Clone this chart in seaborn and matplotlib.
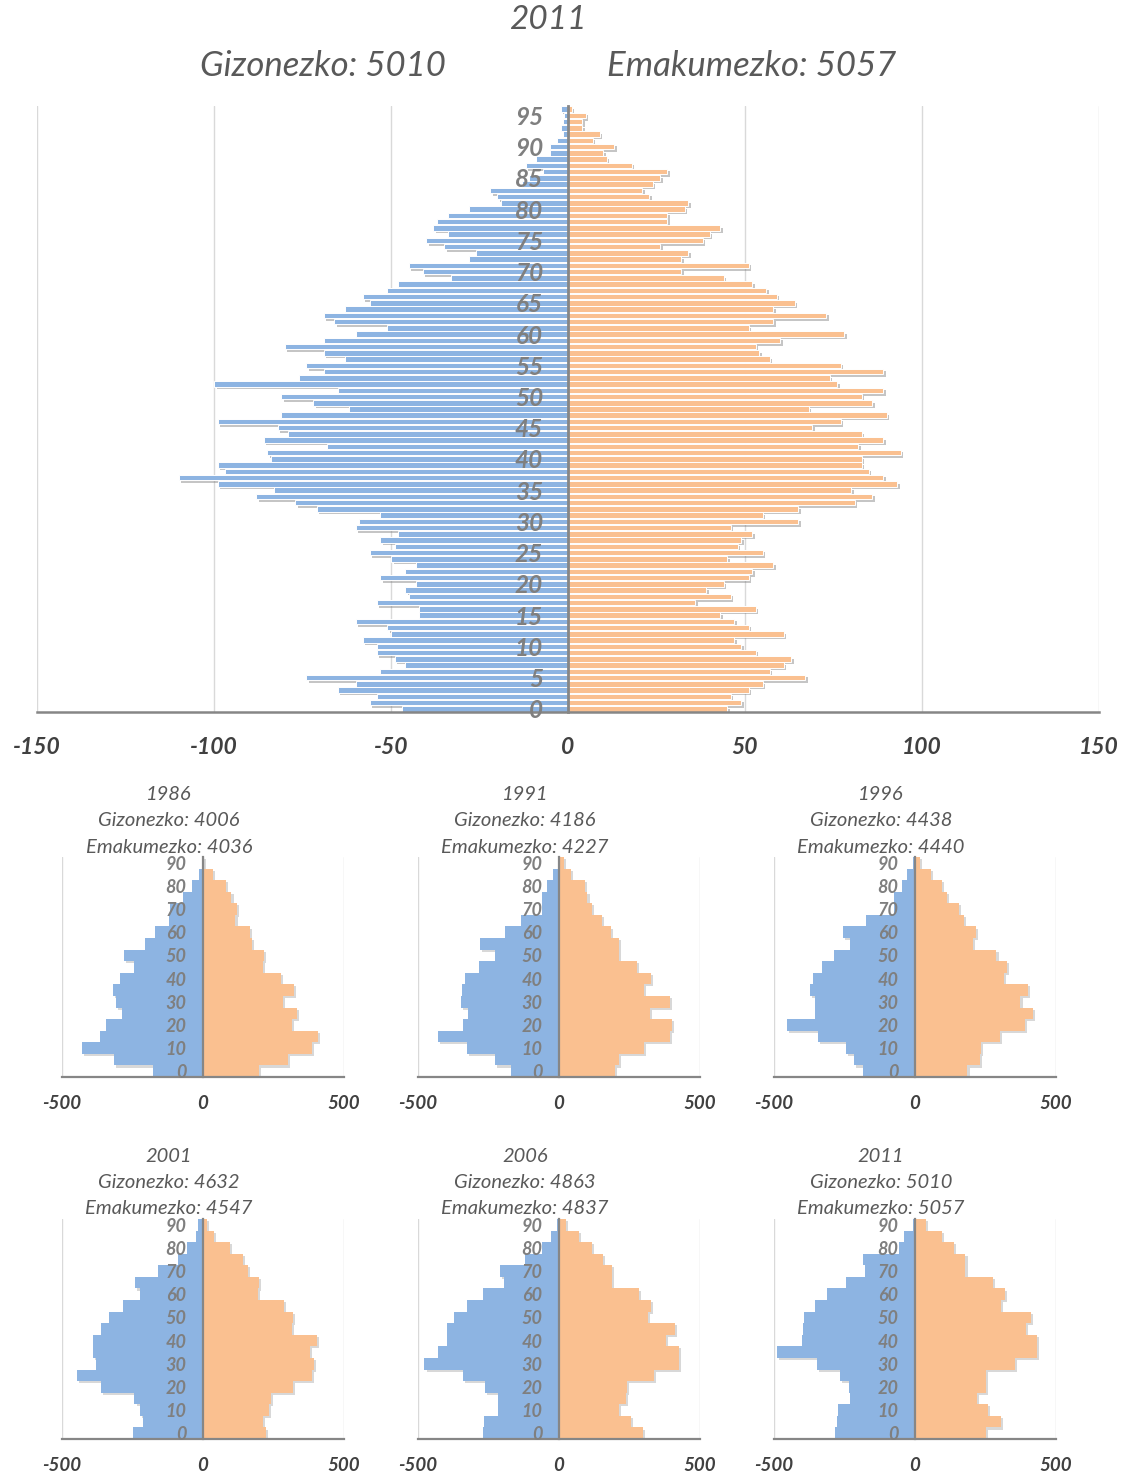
import matplotlib
matplotlib.use('Agg')
import matplotlib.pyplot as plt
import matplotlib.patheffects as pe
import seaborn as sns
import pandas as pd

# single-year ages, 2011 (main pyramid)
AGES = [str(a) for a in range(97)]
MALE_2011 = [47, 56, 54, 65, 60, 74, 53, 46, 49, 54,
             54, 58, 50, 51, 60, 42, 42, 54, 45, 46,
             43, 53, 46, 43, 50, 56, 49, 53, 48, 60,
             59, 53, 71, 77, 88, 83, 99, 110, 97, 99,
             84, 85, 68, 86, 79, 82, 99, 81, 62, 72,
             81, 65, 100, 76, 69, 74, 63, 69, 80, 69,
             60, 51, 66, 69, 63, 56, 58, 51, 48, 33,
             41, 45, 28, 26, 35, 40, 34, 38, 37, 34,
             28, 19, 20, 22, 13, 11, 7, 12, 9, 5,
             5, 3, 1.5, 2, 1.5, 1, 2]
FEMALE_2011 = [45, 49, 46, 51, 55, 67, 57, 61, 63, 53,
               49, 47, 61, 51, 47, 43, 53, 36, 46, 39,
               44, 51, 52, 58, 45, 55, 48, 49, 52, 46,
               65, 55, 65, 81, 86, 80, 93, 89, 85, 83,
               83, 94, 82, 89, 83, 69, 77, 90, 68, 86,
               83, 89, 76, 74, 89, 77, 57, 54, 53, 60,
               78, 51, 58, 73, 58, 64, 59, 56, 52, 44,
               32, 51, 32, 34, 26, 38, 40, 43, 28, 28,
               33, 34, 23, 21, 24, 26, 28, 18, 11, 10,
               13, 7, 9, 4, 4, 5, 1]

# five-year groups (0-4 ... 90+)
GROUPS = [str(g) for g in range(0, 95, 5)]
YEARS = ['1986', '1991', '1996', '2001', '2006', '2011']
TOTAL_MALE = [4006, 4186, 4438, 4632, 4863, 5010]
TOTAL_FEMALE = [4036, 4227, 4440, 4547, 4837, 5057]

MALE_1986 = [178, 315, 429, 366, 344, 287, 309, 319, 295, 246, 280, 205, 170, 119, 116, 72, 38, 13, 3]
FEMALE_1986 = [199, 302, 387, 409, 315, 334, 282, 324, 276, 213, 216, 175, 165, 115, 122, 101, 81, 34, 5]
MALE_1991 = [170, 228, 325, 430, 340, 321, 349, 344, 334, 285, 227, 281, 192, 135, 60, 60, 43, 22, 5]
FEMALE_1991 = [198, 213, 302, 393, 400, 323, 393, 300, 326, 278, 214, 211, 183, 152, 116, 101, 93, 43, 16]
MALE_1996 = [183, 216, 246, 343, 453, 356, 353, 371, 362, 329, 286, 229, 256, 173, 73, 73, 45, 30, 6]
FEMALE_1996 = [186, 229, 234, 302, 390, 417, 374, 402, 317, 325, 289, 207, 216, 173, 156, 113, 94, 56, 18]
MALE_2001 = [249, 214, 224, 243, 361, 446, 380, 389, 389, 361, 335, 285, 222, 242, 159, 90, 57, 25, 18]
FEMALE_2001 = [223, 213, 233, 242, 318, 387, 394, 380, 405, 315, 318, 286, 194, 200, 161, 141, 97, 39, 14]
MALE_2006 = [271, 265, 218, 218, 262, 342, 477, 430, 397, 397, 373, 325, 268, 195, 209, 120, 59, 28, 6]
FEMALE_2006 = [297, 254, 214, 238, 242, 337, 424, 426, 378, 412, 317, 325, 284, 187, 187, 157, 116, 71, 26]
MALE_2011_GRP = [283, 278, 274, 229, 234, 266, 347, 490, 402, 398, 392, 356, 311, 246, 177, 183, 57, 39, 6]
FEMALE_2011_GRP = [250, 305, 258, 219, 252, 252, 356, 432, 432, 392, 412, 305, 320, 276, 179, 179, 138, 95, 39]

SMALL_MALE = [MALE_1986, MALE_1991, MALE_1996, MALE_2001, MALE_2006, MALE_2011_GRP]
SMALL_FEMALE = [FEMALE_1986, FEMALE_1991, FEMALE_1996, FEMALE_2001, FEMALE_2006, FEMALE_2011_GRP]

BLUE = '#8db4e2'
ORANGE = '#fac090'
TITLE_GRAY = '#595959'
LABEL_GRAY = '#7f7f7f'
AXIS_GRAY = '#868686'
FONT = ['Lato', 'DejaVu Sans']

W, H = 1128, 1476

sns.set_style('white')
plt.rcParams['font.family'] = FONT


def fx(px):
    return px / W


def fy(py):
    return 1 - py / H


def draw_pyramid(ax, labels, male, female, label_step, bar_width, edge_w,
                 shadow, shadow_alpha, grid_ticks):
    order = labels[::-1]
    frame = pd.DataFrame({
        'age': labels + labels,
        'value': [-v for v in male] + list(female),
        'sex': ['Gizonezko'] * len(male) + ['Emakumezko'] * len(female),
    })
    # light vertical gridlines, kept under the bars
    for g in grid_ticks:
        ax.axvline(g, color='#d9d9d9', linewidth=1, zorder=0)
    sns.barplot(data=frame, x='value', y='age', hue='sex', order=order,
                orient='h', dodge=False, palette=[BLUE, ORANGE], saturation=1,
                width=bar_width, edgecolor='white', linewidth=edge_w,
                errorbar=None, legend=False, ax=ax)
    for p in ax.patches:
        p.set_path_effects([pe.SimplePatchShadow(offset=(shadow, -shadow),
                                                 shadow_rgbFace='#808080',
                                                 alpha=shadow_alpha),
                            pe.Normal()])
    ax.set_yticks(range(len(order)))
    ax.set_yticklabels([l if int(l) % label_step == 0 else '' for l in order])
    ax.set_xlabel('')
    ax.set_ylabel('')
    ax.grid(False)
    # tick labels sit on top of the bars, like the original
    ax.set_axisbelow(False)
    for side in ['top', 'right']:
        ax.spines[side].set_visible(False)
    ax.spines['left'].set_position(('data', 0))
    ax.spines['left'].set_color(AXIS_GRAY)
    ax.spines['bottom'].set_color(AXIS_GRAY)
    ax.set_xticks(grid_ticks)
    ax.set_xticklabels([str(g) for g in grid_ticks])
    ax.set_xlim(grid_ticks[0], grid_ticks[-1])


fig = plt.figure(figsize=(W / 100, H / 100), dpi=100)

# main pyramid
ax = fig.add_axes([fx(37), fy(712), fx(1099) - fx(37), (712 - 106) / H])
draw_pyramid(ax, AGES, MALE_2011, FEMALE_2011, 5, 0.88, 0.7, 1.8, 0.45,
             [-150, -100, -50, 0, 50, 100, 150])
ax.spines['left'].set_linewidth(2)
ax.spines['bottom'].set_linewidth(1.8)
ax.tick_params(axis='x', direction='out', length=7, width=1.8, color=AXIS_GRAY,
               pad=11, labelsize=16.5, labelcolor='#404040')
ax.tick_params(axis='y', direction='out', length=4, width=1.2, color=AXIS_GRAY,
               pad=14, labelsize=17.5, labelcolor=LABEL_GRAY)
for t in ax.get_xticklabels() + ax.get_yticklabels():
    t.set_fontweight('bold')
    t.set_fontstyle('italic')

fig.text(fx(548), fy(20), '2011', ha='center', va='center', fontsize=24,
         style='italic', color=TITLE_GRAY)
fig.text(fx(323), fy(66), 'Gizonezko: 5010', ha='center', va='center', fontsize=25,
         style='italic', color=TITLE_GRAY)
fig.text(fx(752), fy(66), 'Emakumezko: 5057', ha='center', va='center', fontsize=25,
         style='italic', color=TITLE_GRAY)

# small multiples
lefts = [62, 418, 774]
title_x = [169, 525, 881]
bottoms = [1077, 1439]
title_y = [795, 1157]
for i, year in enumerate(YEARS):
    row, col = divmod(i, 3)
    sax = fig.add_axes([fx(lefts[col]), fy(bottoms[row]), 282 / W, 220 / H])
    draw_pyramid(sax, GROUPS, SMALL_MALE[i], SMALL_FEMALE[i], 10, 1.0, 0,
                 1.5, 0.3, [-500, 0, 500])
    sax.spines['left'].set_linewidth(1.6)
    sax.spines['bottom'].set_linewidth(1.6)
    sax.tick_params(axis='x', direction='out', length=5, width=1.6, color=AXIS_GRAY,
                    pad=8, labelsize=13.5, labelcolor='#404040')
    sax.tick_params(axis='y', direction='out', length=3, width=1.2, color=AXIS_GRAY,
                    pad=9, labelsize=13, labelcolor=LABEL_GRAY)
    for t in sax.get_xticklabels() + sax.get_yticklabels():
        t.set_fontweight('bold')
        t.set_fontstyle('italic')
    ty = title_y[row]
    for k, txt in enumerate([year, f'Gizonezko: {TOTAL_MALE[i]}',
                             f'Emakumezko: {TOTAL_FEMALE[i]}']):
        fig.text(fx(title_x[col]), fy(ty + 26 * k), txt, ha='center', va='center',
                 fontsize=14.5, style='italic', color=TITLE_GRAY)

fig.savefig('out.png', dpi=100)
